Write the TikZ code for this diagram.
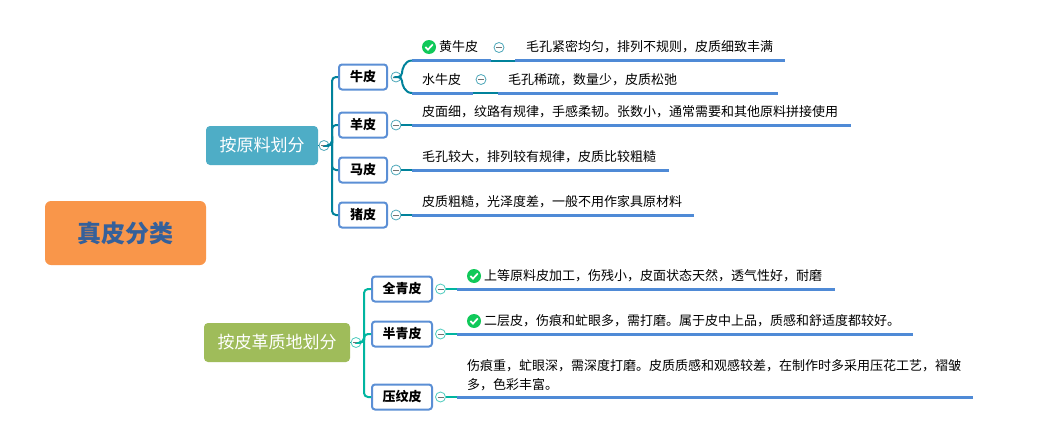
\documentclass[tikz,border=0pt]{standalone}
\usepackage{fontspec}
\setmainfont{Noto Sans CJK SC}
\usepackage{xcolor}
\usetikzlibrary{calc,positioning,backgrounds}
\definecolor{rootfill}{HTML}{F9964A}
\definecolor{rootink}{HTML}{35609A}
\definecolor{bluefill}{HTML}{4EADC6}
\definecolor{greenfill}{HTML}{9FBC5A}
\definecolor{tealA}{HTML}{00829B}
\definecolor{tealB}{HTML}{00B5A0}
\definecolor{lineblue}{HTML}{4F8AD6}
\definecolor{boxblue}{HTML}{5B8FD5}
\definecolor{okgreen}{HTML}{10C95A}
\tikzset{
  rootbox/.style={fill=rootfill, rounded corners=6pt, minimum width=161, minimum height=64,
    outer sep=0pt, text=rootink, font=\fontsize{24}{28}\selectfont\bfseries},
  branch/.style={rounded corners=4pt, minimum height=39, outer sep=0pt, text=white,
    font=\fontsize{17}{20}\selectfont},
  kind/.style={draw=boxblue, line width=2pt, fill=white, rounded corners=3pt,
    minimum height=25, outer sep=1pt, font=\fontsize{13}{16}\selectfont\bfseries},
  leaf/.style={anchor=west, inner sep=0pt, align=left, font=\fontsize{13}{19}\selectfont},
  fold/.style={circle, draw=#1!70, fill=white, line width=0.8pt, minimum size=10, inner sep=0pt,
    outer sep=0pt, path picture={\draw[black!55, line width=0.8pt]
      ($(path picture bounding box.center)+(-3,0)$) -- ($(path picture bounding box.center)+(3,0)$);}},
  okmark/.style={circle, fill=okgreen, minimum size=14, inner sep=0pt, outer sep=0pt,
    path picture={\draw[white, line width=1.7pt]
      ($(path picture bounding box.center)+(-3.6,0)$) -- ($(path picture bounding box.center)+(-1,2.6)$)
      -- ($(path picture bounding box.center)+(3.8,-2.6)$);}},
  uline/.style={lineblue, line width=3pt},
  linkA/.style={tealA, line width=2pt, rounded corners=4pt},
  linkB/.style={tealB, line width=2pt, rounded corners=4pt}
}

\begin{document}
\begin{tikzpicture}[x=1pt,y=-1pt]
  \fill[white] (0,0) rectangle (1042,439);
  \useasboundingbox (0,0) rectangle (1042,439);

  \node[rootbox] (root) at (125.5,233) {真皮分类};
  \node[branch, fill=bluefill, minimum width=112] (byraw) at (262,145.5) {按原料划分};
  \node[branch, fill=greenfill, minimum width=146] (bygrain) at (277,342.5) {按皮革质地划分};
  \node[fold=tealA, right=1pt of byraw] (foldraw) {};
  \node[fold=tealB, right=1pt of bygrain] (foldgrain) {};

  % first group
  \node[kind, minimum width=48] (cow) at (363,77) {牛皮};
  \node[kind, minimum width=48] (sheep) at (363,125) {羊皮};
  \node[kind, minimum width=48] (horse) at (363,170) {马皮};
  \node[kind, minimum width=48] (pig) at (363,215) {猪皮};

  % second group
  \node[kind, minimum width=60] (full) at (402,289) {全青皮};
  \node[kind, minimum width=60] (half) at (402,334) {半青皮};
  \node[kind, minimum width=60] (press) at (402,397) {压纹皮};

  \foreach \n in {cow,sheep,horse,pig}
    \node[fold=tealA, right=3pt of \n] (fold\n) {};
  \foreach \n in {full,half,press}
    \node[fold=tealB, right=2.5pt of \n] (fold\n) {};

  % leaves
  \node[okmark] (okyellow) at (429,47) {};
  \node[leaf] (yellow) at (439,47) {黄牛皮};
  \node[fold=tealA] (foldyellow) at (499,47.5) {};
  \node[leaf] (yellowtxt) at (526,47) {毛孔紧密均匀，排列不规则，皮质细致丰满};
  \node[leaf] (buffalo) at (422,80) {水牛皮};
  \node[fold=tealA] (foldbuffalo) at (481,79.5) {};
  \node[leaf] (buffalotxt) at (508,80) {毛孔稀疏，数量少，皮质松弛};
  \node[leaf] (sheeptxt) at (422,112) {皮面细，纹路有规律，手感柔韧。张数小，通常需要和其他原料拼接使用};
  \node[leaf] (horsetxt) at (422,157) {毛孔较大，排列较有规律，皮质比较粗糙};
  \node[leaf] (pigtxt) at (422,202) {皮质粗糙，光泽度差，一般不用作家具原材料};
  \node[okmark] (okfull) at (474,276) {};
  \node[leaf] (fulltxt) at (484,276) {上等原料皮加工，伤残小，皮面状态天然，透气性好，耐磨};
  \node[okmark] (okhalf) at (474,321) {};
  \node[leaf] (halftxt) at (484,321) {二层皮，伤痕和虻眼多，需打磨。属于皮中上品，质感和舒适度都较好。};
  \node[leaf] (presstxt) at (467,375.5) {伤痕重，虻眼深，需深度打磨。皮质质感和观感较差，在制作时多采用压花工艺，褶皱\\多，色彩丰富。};

  % underlines
  \foreach \n/\xa/\xb/\yy in {yellow/412/491/60.5,yellowtxt/515/785/60.5,buffalo/412/473/93,buffalotxt/498/778/93,
      sheeptxt/412/851/125,horsetxt/412/669/170,pigtxt/412/694/215,
      fulltxt/457/835/289,halftxt/457/913/334,presstxt/457/973/397}{
    \coordinate (\n L) at (\xa,\yy);
    \coordinate (\n R) at (\xb,\yy);
    \draw[uline] (\n L) -- (\n R);
  }

  % links
  \draw[tealA, line width=2pt] (yellowR) -- (yellowtxtL);
  \draw[tealA, line width=2pt] (buffaloR) -- (buffalotxtL);
  \draw[linkA] (foldcow.east) -- ++(1,0) to[out=90,in=180] (yellowL);
  \draw[linkA] (foldcow.east) -- ++(1,0) to[out=-90,in=180] (buffaloL);
  \draw[linkA] (foldsheep.east) -- (sheeptxtL);
  \draw[linkA] (foldhorse.east) -- (horsetxtL);
  \draw[linkA] (foldpig.east) -- (pigtxtL);
  \draw[linkB] (foldfull.east) -- (fulltxtL);
  \draw[linkB] (foldhalf.east) -- (halftxtL);
  \draw[linkB] (foldpress.east) -- (presstxtL);
  \foreach \n in {cow,sheep,horse,pig}
    \draw[linkA] (foldraw.east) -| (332,145.5) |- (\n.west);
  \foreach \n in {full,half,press}
    \draw[linkB] (foldgrain.east) -| (364,342.5) |- (\n.west);
  \draw[tealA, line width=1pt] (byraw.east) -- (foldraw.west);
  \draw[tealB, line width=1pt] (bygrain.east) -- (foldgrain.west);

  % tapered links to the root
  \begin{scope}[on background layer]
    \fill[tealA] ($(root.north west)+(108,0)$) .. controls (163,162) and (185,145) .. (byraw.west)
      .. controls (187,147) and (169,165) .. ($(root.north west)+(113,0)$) -- cycle;
    \fill[tealB] ($(root.south west)+(102,0)$) .. controls (155,310) and (172,342) .. (bygrain.west)
      .. controls (176,344) and (161,315) .. ($(root.south west)+(107,0)$) -- cycle;
  \end{scope}
\end{tikzpicture}
\end{document}
